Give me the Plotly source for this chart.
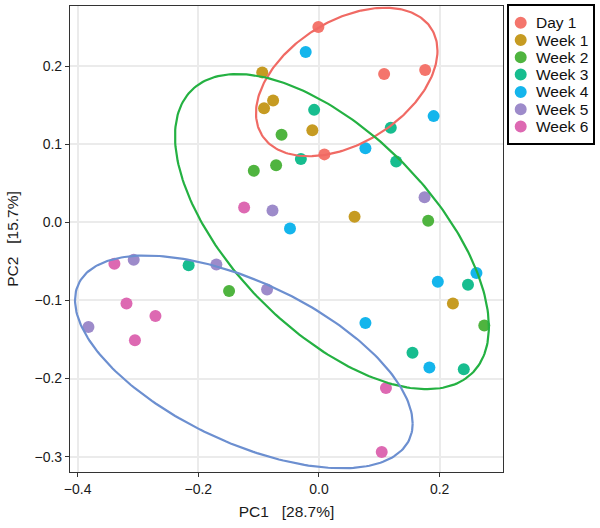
import numpy as np
import plotly.graph_objects as go

# ---- data ----
groups = ["Day 1", "Week 1", "Week 2", "Week 3", "Week 4", "Week 5", "Week 6"]
colors = ["#F4756C", "#C69B22", "#4FB43F", "#17BD8F", "#14B5EC", "#9D8BCA", "#DD69B2"]

day1_x = [-0.001, 0.108, 0.176, 0.009]
day1_y = [0.250, 0.190, 0.195, 0.087]
week1_x = [-0.094, -0.076, -0.091, -0.011, 0.059, 0.222]
week1_y = [0.192, 0.156, 0.146, 0.118, 0.007, -0.104]
week2_x = [-0.062, -0.108, -0.071, 0.181, -0.149, 0.274]
week2_y = [0.112, 0.066, 0.073, 0.002, -0.088, -0.132]
week3_x = [-0.030, -0.008, 0.119, 0.128, -0.216, 0.247, 0.155, 0.240]
week3_y = [0.081, 0.144, 0.121, 0.078, -0.055, -0.080, -0.167, -0.188]
week4_x = [-0.022, 0.190, 0.077, -0.048, 0.261, 0.197, 0.077, 0.183]
week4_y = [0.218, 0.136, 0.095, -0.008, -0.065, -0.076, -0.129, -0.186]
week5_x = [-0.077, 0.175, -0.307, -0.170, -0.086, -0.382]
week5_y = [0.015, 0.032, -0.048, -0.054, -0.086, -0.134]
week6_x = [-0.124, -0.339, -0.319, -0.271, -0.305, 0.111, 0.104]
week6_y = [0.019, -0.053, -0.104, -0.120, -0.151, -0.212, -0.294]

xs = [day1_x, week1_x, week2_x, week3_x, week4_x, week5_x, week6_x]
ys = [day1_y, week1_y, week2_y, week3_y, week4_y, week5_y, week6_y]

# ellipses: center, half-width in x, half-height in y, y-offset of rightmost point
ellipse_colors = ["#F06A64", "#24B142", "#6C8FD0"]
ellipse_cx = [0.046, 0.0215, -0.1245]
ellipse_cy = [0.1797, -0.0119, -0.1787]
ellipse_wx = [0.1504, 0.2601, 0.2798]
ellipse_hy = [0.0951, 0.2018, 0.1362]
ellipse_tilt = [0.040, -0.122, -0.079]

x_ticks = [-0.4, -0.2, 0.0, 0.2]
y_ticks = [-0.3, -0.2, -0.1, 0.0, 0.1, 0.2]

FONT = "Liberation Sans, Arial, sans-serif"

fig = go.Figure()

for name, col, gx, gy in zip(groups, colors, xs, ys):
    fig.add_trace(go.Scatter(
        x=gx, y=gy, mode="markers", name=name, showlegend=False,
        marker=dict(color=col, size=12, line=dict(width=0)),
    ))

t = np.linspace(0, 2 * np.pi, 241)
for col, cx, cy, wx, hy, c in zip(ellipse_colors, ellipse_cx, ellipse_cy,
                                  ellipse_wx, ellipse_hy, ellipse_tilt):
    d = np.sqrt(hy ** 2 - c ** 2)
    fig.add_trace(go.Scatter(
        x=cx + wx * np.cos(t), y=cy + c * np.cos(t) + d * np.sin(t),
        mode="lines", line=dict(color=col, width=2.2), showlegend=False,
        hoverinfo="skip",
    ))

axis_common = dict(
    showline=True, mirror=True, linecolor="#333333", linewidth=1.2,
    ticks="outside", ticklen=4, tickwidth=1.2, tickcolor="#333333",
    showgrid=True, gridcolor="#EBEBEB", gridwidth=1.6, zeroline=False,
    tickfont=dict(family=FONT, size=14, color="#1a1a1a"),
    tickformat=".1f", automargin=False,
)

# ---- legend drawn as a boxed key to the right of the panel (pixel offsets from panel top-right) ----
leg_box_left, leg_box_right = 5, 91
leg_box_top, leg_box_bottom = 1, -138
leg_row0, leg_row_step = -16.7, -17.3
leg_dot_x, leg_dot_r = 17.7, 6
leg_text_x = 31

shapes = [dict(type="rect", xref="paper", yref="paper", xsizemode="pixel", ysizemode="pixel",
               xanchor=1, yanchor=1, x0=leg_box_left, x1=leg_box_right,
               y0=leg_box_bottom, y1=leg_box_top,
               line=dict(color="black", width=2), fillcolor="white", layer="above")]
annotations = []
for i, (name, col) in enumerate(zip(groups, colors)):
    cy_px = leg_row0 + i * leg_row_step
    shapes.append(dict(type="circle", xref="paper", yref="paper", xsizemode="pixel",
                       ysizemode="pixel", xanchor=1, yanchor=1,
                       x0=leg_dot_x - leg_dot_r, x1=leg_dot_x + leg_dot_r,
                       y0=cy_px - leg_dot_r, y1=cy_px + leg_dot_r,
                       fillcolor=col, line=dict(width=0), layer="above"))
    annotations.append(dict(x=1, y=1, xref="paper", yref="paper", xanchor="left",
                            yanchor="middle", xshift=leg_text_x, yshift=cy_px,
                            text=name, showarrow=False,
                            font=dict(family=FONT, size=15.5, color="#111111")))

fig.update_layout(
    width=600, height=528,
    margin=dict(l=70, r=97, t=6, b=56),
    paper_bgcolor="white", plot_bgcolor="white",
    font=dict(family=FONT, color="#1a1a1a"),
    xaxis=dict(range=[-0.4126, 0.305], tickvals=x_ticks,
               title=dict(text="PC1\u00a0\u00a0\u00a0[28.7%]", font=dict(size=15.5), standoff=10),
               **axis_common),
    yaxis=dict(range=[-0.3197, 0.277], tickvals=y_ticks,
               title=dict(text="PC2\u00a0\u00a0\u00a0[15.7%]", font=dict(size=15.5), standoff=12),
               **axis_common),
    shapes=shapes,
    annotations=annotations,
    showlegend=False,
)

fig.write_html("out.html", config={"displayModeBar": False},
               post_script="document.body.style.margin='0px';")
